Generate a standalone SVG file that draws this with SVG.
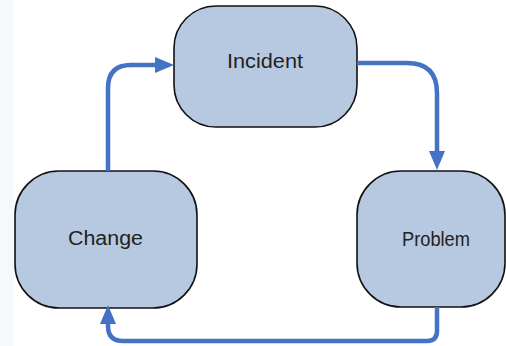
<svg xmlns="http://www.w3.org/2000/svg" width="506" height="346" viewBox="0 0 506 346">
<style>
.node rect{fill:#b6c9e1;stroke:#111;stroke-width:1.6}
.node text{font-family:"Liberation Sans",Arial,sans-serif;font-size:20px;fill:#222}
.conn path{fill:none;stroke:#4472c4;stroke-width:4.5;stroke-linejoin:round}
</style>
<defs>
<marker id="arrow" viewBox="0 0 19 16" refX="0" refY="8" markerWidth="19" markerHeight="16" markerUnits="userSpaceOnUse" orient="auto">
<path d="M0,0 L19,8 L0,16 z" fill="#4472c4"/>
</marker>
</defs>
<rect x="0" y="0" width="506" height="346" fill="#ffffff"/>
<rect x="0" y="0" width="14" height="346" fill="#f5f8fc"/>
<g id="incident" class="node">
<rect x="174" y="6" width="183" height="121" rx="42" ry="42"/>
<text x="227" y="68" textLength="76" lengthAdjust="spacingAndGlyphs">Incident</text>
</g>
<g id="change" class="node">
<rect x="15" y="171" width="182" height="137" rx="44" ry="44"/>
<text x="68" y="245" textLength="75" lengthAdjust="spacingAndGlyphs">Change</text>
</g>
<g id="problem" class="node">
<rect x="357" y="171" width="148" height="136" rx="44" ry="44"/>
<text x="402" y="246" textLength="68" lengthAdjust="spacingAndGlyphs">Problem</text>
</g>
<g id="connectors" class="conn">
<path d="M108,171 V88 Q108,65 131,65 H155" marker-end="url(#arrow)"/>
<path d="M357,63 H407 Q437,63 437,93 V151" marker-end="url(#arrow)"/>
<path d="M437,307 V331 Q437,341 427,341 H123 Q108,341 108,326 V324" marker-end="url(#arrow)"/>
</g>
</svg>
